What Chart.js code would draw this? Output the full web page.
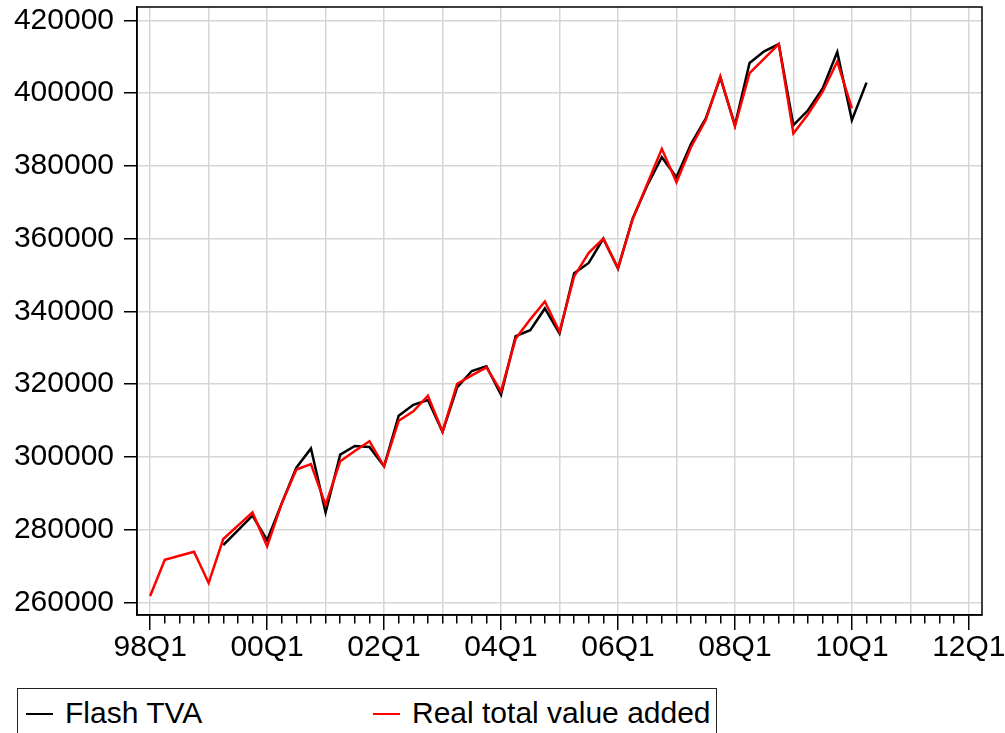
<!DOCTYPE html>
<html>
<head>
<meta charset="utf-8">
<script src="https://cdn.jsdelivr.net/npm/chart.js@4.4.1/dist/chart.umd.min.js"></script>
<style>
  html, body { margin: 0; padding: 0; background: #fff; overflow: hidden; }
  #wrap { position: relative; width: 1005px; height: 733px; }
  #tva-chart { position: absolute; left: 0; top: 0; }
  #legend {
    position: absolute; left: 17px; top: 688px; width: 700px; height: 80px;
    border: 1.5px solid #222; box-sizing: border-box;
    font-family: "Liberation Sans", Arial, sans-serif; font-size: 30px; color: #000;
  }
  .leg-item { position: absolute; top: 7px; height: 34px; line-height: 34px; white-space: nowrap; }
  .leg-line { position: absolute; top: 17px; width: 27px; height: 2px; }
  .leg-text { position: absolute; left: 39px; top: 0; }
</style>
</head>
<body>
<div id="wrap">
  <canvas id="tva-chart" width="1005" height="680"></canvas>
  <div id="legend"></div>
</div>
<script>
// quarter index 0 = 98Q1
var tickLabels = ["98Q1", "00Q1", "02Q1", "04Q1", "06Q1", "08Q1", "10Q1", "12Q1"]
var yTicks = [260000, 280000, 300000, 320000, 340000, 360000, 380000, 400000, 420000]

// Real total value added, 98Q1 .. 10Q1
var realTVA = [
    261700, 271700, 272800, 273900,
    265300, 277400, 281100, 284700,
    275400, 287200, 296500, 298000,
    286800, 298800, 301600, 304300,
    297400, 309900, 312500, 316800,
    306900, 320100, 322400, 324600,
    318000, 332500, 337800, 342700,
    334400, 349600, 356100, 360000,
    351900, 365300, 375000, 384700,
    375500, 385200, 392600, 404600,
    390900, 405500, 409500, 413500,
    388900, 394200, 400400, 408700,
    395800
]

// Flash TVA, starts 99Q2 (index 5) .. 10Q2
var flashStart = 5
var flashTVA = [
    275700, 279800, 283800,
    277100, 287200, 297000, 302300,
    284700, 300600, 303000, 302700,
    297400, 311300, 314300, 315600,
    306900, 319100, 323600, 324900,
    317100, 333200, 334800, 340800,
    333900, 350500, 353300, 360000,
    351800, 365500, 374600, 382400,
    376900, 386100, 393000, 404300,
    391200, 408300, 411500, 413500,
    391200, 395300, 401300, 411300,
    392600, 402900
]

var fontFamily = '"Liberation Sans", Arial, sans-serif'

function toPoints(values, start) {
    var pts = []
    for (var i = 0; i < values.length; i++) {
        pts.push({ x: start + i, y: values[i] })
    }
    return pts
}

// frame round the plot area
const frameBox = {
    id: "frameBox",
    afterDraw: function(chart) {
        var a = chart.chartArea
        var ctx = chart.ctx
        ctx.save()
        ctx.strokeStyle = "#000"
        ctx.lineWidth = 1.5
        ctx.strokeRect(a.left, a.top, a.right - a.left, a.bottom - a.top)
        ctx.restore()
    }
}

const tvaConfig = {
    type: "line",
    data: {
        datasets: [
            {
                label: "Flash TVA",
                data: toPoints(flashTVA, flashStart),
                borderColor: "#000000",
                backgroundColor: "#000000",
                borderWidth: 2.5,
                pointRadius: 0,
                tension: 0,
                order: 2
            },
            {
                label: "Real total value added",
                data: toPoints(realTVA, 0),
                borderColor: "#ff0000",
                backgroundColor: "#ff0000",
                borderWidth: 2.5,
                pointRadius: 0,
                tension: 0,
                order: 1
            }
        ]
    },
    options: {
        responsive: false,
        animation: false,
        layout: { padding: { top: 7, right: 23, left: 0, bottom: 0 } },
        plugins: {
            legend: { display: false },
            tooltip: { enabled: false }
        },
        scales: {
            x: {
                type: "linear",
                min: -0.9,
                max: 56.9,
                afterBuildTicks: function(scale) {
                    var t = []
                    for (var q = 0; q <= 56; q++) t.push({ value: q })
                    scale.ticks = t
                },
                afterFit: function(scale) {
                    scale.height = 65
                    scale.paddingLeft = 0
                    scale.paddingRight = 0
                },
                border: { color: "#000", width: 1.5 },
                grid: {
                    color: function(ctx) {
                        return ctx.tick && ctx.tick.value % 4 === 0 ? "#d6d6d6" : "rgba(0,0,0,0)"
                    },
                    lineWidth: 1.5,
                    tickColor: "#000",
                    tickWidth: 1.5,
                    tickLength: 15,
                    tickBorderDash: function(ctx) {
                        return ctx.tick && ctx.tick.value % 8 === 0 ? [] : [8, 40]
                    }
                },
                ticks: {
                    autoSkip: false,
                    maxRotation: 0,
                    padding: 0,
                    color: "#000",
                    font: { family: fontFamily, size: 30 },
                    callback: function(v) {
                        return v % 8 === 0 ? tickLabels[v / 8] : ""
                    }
                }
            },
            y: {
                min: 256500,
                max: 423700,
                afterBuildTicks: function(scale) {
                    scale.ticks = yTicks.map(function(v) { return { value: v } })
                },
                afterFit: function(scale) {
                    scale.width = 137
                    scale.paddingTop = 0
                    scale.paddingBottom = 0
                },
                border: { color: "#000", width: 1.5 },
                grid: {
                    color: "#d6d6d6",
                    lineWidth: 1.5,
                    tickColor: "#000",
                    tickWidth: 1.5,
                    tickLength: 13
                },
                ticks: {
                    padding: 10,
                    color: "#000",
                    font: { family: fontFamily, size: 30 },
                    callback: function(v) { return String(v) }
                }
            }
        }
    },
    plugins: [frameBox]
};

var tvaChart = new Chart(document.getElementById("tva-chart"), tvaConfig);

// legend box under the chart, built from the datasets
var legendX = [8, 355]
var legendEl = document.getElementById("legend")
tvaChart.data.datasets.forEach(function(ds, i) {
    var item = document.createElement("div")
    item.className = "leg-item"
    item.style.left = legendX[i] + "px"
    var line = document.createElement("div")
    line.className = "leg-line"
    line.style.background = ds.borderColor
    var text = document.createElement("span")
    text.className = "leg-text"
    text.textContent = ds.label
    item.appendChild(line)
    item.appendChild(text)
    legendEl.appendChild(item)
})
</script>
</body>
</html>
